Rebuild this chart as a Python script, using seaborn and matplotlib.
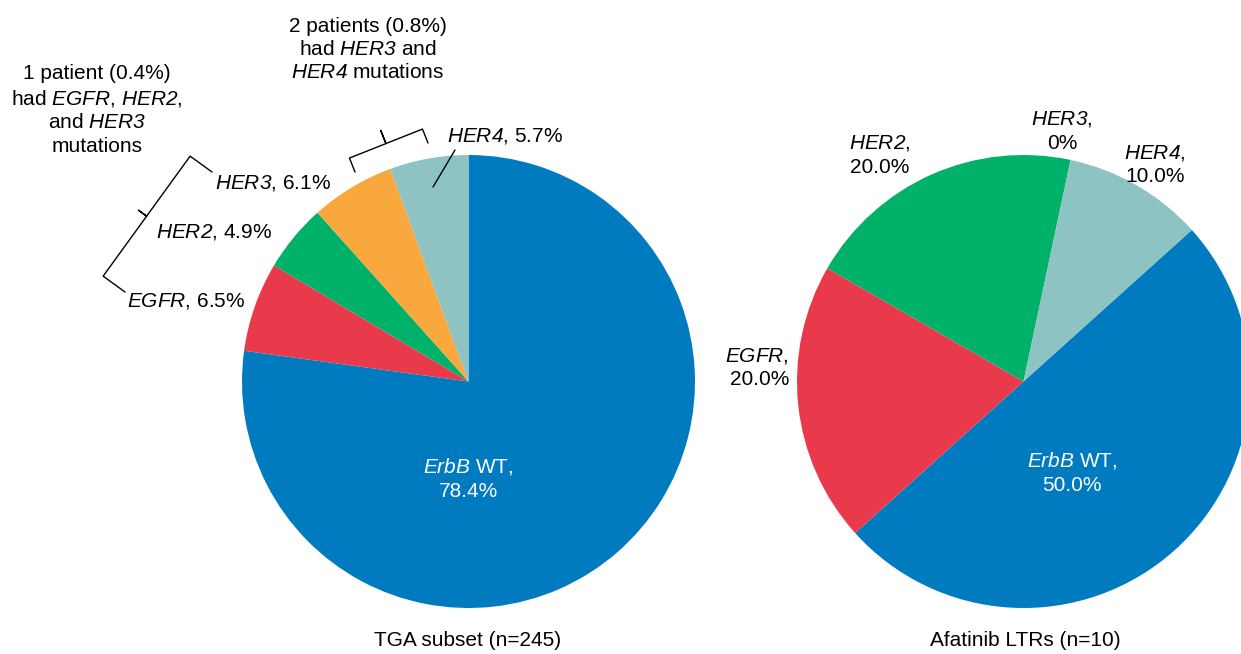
import matplotlib
matplotlib.use('Agg')
import matplotlib.pyplot as plt
import seaborn as sns
import numpy as np

# data
genes = ['ErbB WT', 'EGFR', 'HER2', 'HER3', 'HER4']
tga_pct = [78.4, 6.5, 4.9, 6.1, 5.7]
ltr_pct = [50.0, 20.0, 20.0, 0.0, 10.0]
colors = ['#007BC0', '#E93A4B', '#00B16A', '#F9A83D', '#8EC3C4']
titles = ['TGA subset (n=245)', 'Afatinib LTRs (n=10)']

sns.set_style('white')
plt.rcParams['font.family'] = ['Liberation Sans', 'DejaVu Sans']
plt.rcParams['mathtext.fontset'] = 'custom'
plt.rcParams['mathtext.rm'] = 'Liberation Sans:italic'
plt.rcParams['mathtext.it'] = 'Liberation Sans:italic'

W, H = 1241, 654
fig = plt.figure(figsize=(12.41, 6.54), dpi=100)
ax = fig.add_axes([0, 0, 1, 1])


def P(x, y):
    # picture pixel -> data coords (y up)
    return x, H - y


def it(s):
    return r'$\mathit{' + s + '}$'


R = 226.5
ax.pie(tga_pct, colors=colors, startangle=90, counterclock=False,
       center=P(468.5, 381.5), radius=R, wedgeprops=dict(linewidth=0))
ax.pie(ltr_pct, colors=colors, startangle=42, counterclock=False,
       center=P(1023.5, 381.5), radius=R, wedgeprops=dict(linewidth=0))
ax.set_xlim(0, W)
ax.set_ylim(0, H)
ax.set_aspect('equal')
ax.axis('off')

fs = 15
ls = 1.3
kw = dict(fontsize=fs, color='black', va='center', linespacing=ls)

# left pie labels
ax.text(*P(468, 478.5), it('ErbB') + ' WT,\n' + f'{tga_pct[0]:.1f}%',
        ha='center', multialignment='center', fontsize=fs, color='white',
        va='center', linespacing=ls)
ax.text(*P(127, 301), it('EGFR') + f', {tga_pct[1]:.1f}%', ha='left', **kw)
ax.text(*P(156, 232), it('HER2') + f', {tga_pct[2]:.1f}%', ha='left', **kw)
ax.text(*P(215, 183), it('HER3') + f', {tga_pct[3]:.1f}%', ha='left', **kw)
ax.text(*P(447, 136), it('HER4') + f', {tga_pct[4]:.1f}%', ha='left', **kw)
ax.plot(*zip(P(455, 150), P(433, 187)), color='black', lw=1.0)

ax.text(*P(97, 110), '1 patient (0.4%)\nhad ' + it('EGFR') + ', ' + it('HER2') + ',\nand '
        + it('HER3') + '\nmutations', ha='center', multialignment='center', **kw)
ax.text(*P(368, 49.5), '2 patients (0.8%)\nhad ' + it('HER3') + ' and\n' + it('HER4')
        + ' mutations', ha='center', multialignment='center', **kw)


def brace(p1, p2, depth, tip):
    p1 = np.array(P(*p1), float)
    p2 = np.array(P(*p2), float)
    d = p2 - p1
    n = np.array([-d[1], d[0]]) / np.hypot(*d)
    mid = (p1 + p2) / 2
    pts = [p1, p1 + n * depth, mid + n * depth, mid + n * (depth + tip),
           mid + n * depth, p2 + n * depth, p2]
    pts = np.array(pts)
    ax.plot(pts[:, 0], pts[:, 1], color='black', lw=1.0, solid_joinstyle='round')


brace((125, 292), (212, 172), 27, 10)
brace((355, 172), (428, 143), 15, 14)

# right pie labels
ax.text(*P(1072, 472.5), it('ErbB') + ' WT,\n' + f'{ltr_pct[0]:.1f}%',
        ha='center', multialignment='center', fontsize=fs, color='white',
        va='center', linespacing=ls)
ax.text(*P(789, 367.5), it('EGFR') + ',\n' + f'{ltr_pct[1]:.1f}%', ha='right',
        multialignment='right', **kw)
ax.text(*P(880, 155), it('HER2') + ',\n' + f'{ltr_pct[2]:.1f}%', ha='center',
        multialignment='center', **kw)
ax.text(*P(1062, 131), it('HER3') + ',\n' + f'{ltr_pct[3]:.0f}%', ha='center',
        multialignment='center', **kw)
ax.text(*P(1155, 164.5), it('HER4') + ',\n' + f'{ltr_pct[4]:.1f}%', ha='center',
        multialignment='center', **kw)

ax.text(*P(468, 641), titles[0], ha='center', **kw)
ax.text(*P(1025, 641), titles[1], ha='center', **kw)

fig.savefig('out.png', dpi=100)
